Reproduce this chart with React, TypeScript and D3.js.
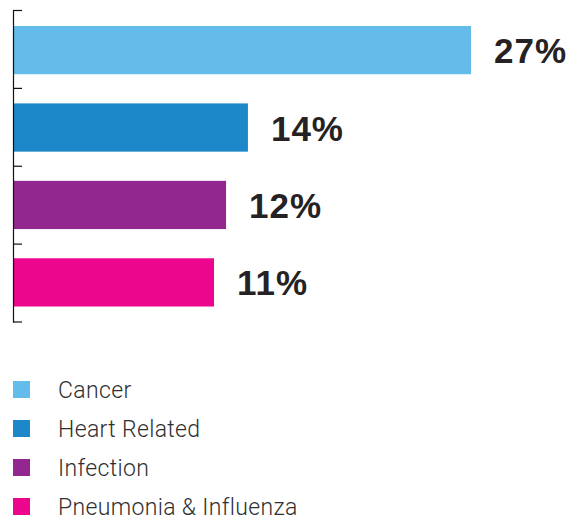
import React from "react";
import * as d3 from "d3";

const categories = ["Cancer", "Heart Related", "Infection", "Pneumonia & Influenza"];
const barValues = [27, 13.85, 12.56, 11.85];
const valueLabels = ["27%", "14%", "12%", "11%"];
const colors = ["#63bce9", "#1c87c9", "#92278f", "#ec068d"];

export default function App() {
  const width = 579;
  const height = 517;
  const x = d3.scaleLinear().domain([0, 27]).range([13, 471]);
  const yBand = d3.scaleBand<string>().domain(categories).range([10.5, 322]).padding(0);
  const yBar = d3
    .scaleBand<string>()
    .domain(categories)
    .range([10.5, 322])
    .paddingInner(0.377)
    .paddingOuter(0.2);
  const tickYs = [...categories.map((c) => yBand(c) as number), 322];

  return (
    <svg
      width={width}
      height={height}
      style={{ position: "absolute", left: 0, top: 0, background: "#fff" }}
    >
      {categories.map((c, i) => (
        <rect
          key={c}
          x={x(0)}
          y={yBar(c)}
          width={x(barValues[i]) - x(0)}
          height={yBar.bandwidth()}
          fill={colors[i]}
        />
      ))}
      <line x1={13.5} x2={13.5} y1={tickYs[0]} y2={322.5} stroke="#111" strokeWidth={1.2} />
      {tickYs.map((t, i) => (
        <line key={i} x1={13} x2={22} y1={t} y2={t} stroke="#111" strokeWidth={1.2} />
      ))}
      {categories.map((c, i) => (
        <text
          key={c}
          x={x(barValues[i]) + 23}
          y={(yBar(c) as number) + yBar.bandwidth() / 2 + 13}
          fontFamily="Liberation Sans, Arial, sans-serif"
          fontWeight="bold"
          fontSize={35}
          letterSpacing={1}
          fill="#262223"
        >
          {valueLabels[i]}
        </text>
      ))}
      {categories.map((c, i) => (
        <g key={c} transform={`translate(0, ${381 + i * 39})`}>
          <rect x={13} y={0} width={17} height={17} fill={colors[i]} />
          <text
            x={58}
            y={17}
            fontFamily="Roboto, Liberation Sans, Arial, sans-serif"
            fontWeight={300}
            fontSize={23}
            letterSpacing={0.35}
            fill="#2f2f2f"
          >
            {c}
          </text>
        </g>
      ))}
    </svg>
  );
}
